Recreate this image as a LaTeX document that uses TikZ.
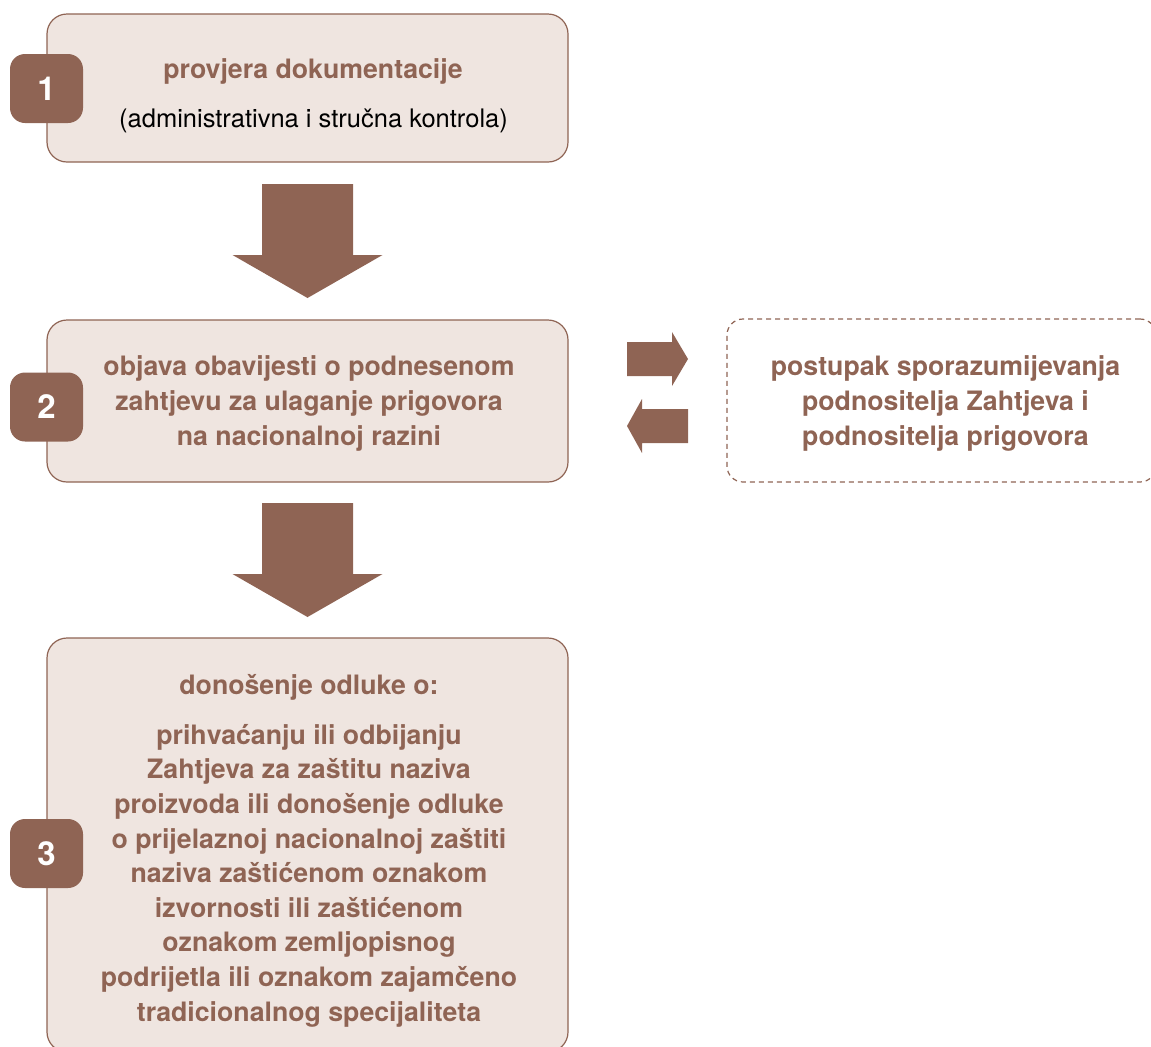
\documentclass[tikz,border=0pt]{standalone}
\usepackage{fontspec}
\setmainfont{TeX Gyre Heros}
\usepackage{xcolor}
\usetikzlibrary{calc}
\definecolor{brownish}{HTML}{8F6454}
\definecolor{paleback}{HTML}{EFE5E0}
\newcommand{\drawDownArrow}[2]{% top center: x,y
  \fill[brownish] (#1-45.5,#2) -- (#1+45.5,#2) -- (#1+45.5,#2+71) -- (#1+75,#2+71)
    -- (#1,#2+114) -- (#1-75,#2+71) -- (#1-45.5,#2+71) -- cycle;
}
\newcommand{\drawRightArrow}[2]{% tip: x,y
  \fill[brownish] (#1-61,#2-17) -- (#1-16,#2-17) -- (#1-16,#2-27) -- (#1,#2)
    -- (#1-16,#2+27) -- (#1-16,#2+17) -- (#1-61,#2+17) -- cycle;
}
\newcommand{\drawLeftArrow}[2]{% tip: x,y
  \fill[brownish] (#1+61,#2-17) -- (#1+15,#2-17) -- (#1+15,#2-27) -- (#1,#2)
    -- (#1+15,#2+27) -- (#1+15,#2+17) -- (#1+61,#2+17) -- cycle;
}
\tikzset{
  stepbox/.style={draw=brownish, fill=paleback, rounded corners=10pt, line width=0.6pt,
    minimum width=260.5pt, inner sep=0pt},
  badge/.style={fill=brownish, rounded corners=7.5pt, minimum width=36.5pt,
    minimum height=34.5pt, inner sep=0pt, text=white, font=\fontsize{16.5}{18}\selectfont\bfseries},
  sidebox/.style={draw=brownish, line width=0.6pt, dash pattern=on 2.5pt off 2pt,
    rounded corners=8pt, minimum width=214.5pt, minimum height=81.5pt, inner sep=0pt},
  boxtext/.style={text=brownish, font=\fontsize{13.35}{17.3}\selectfont\bfseries, align=center}
}
\begin{document}
\begin{tikzpicture}[x=0.5pt,y=-0.5pt]
\useasboundingbox (0,0) rectangle (1151,1046);

% Steps
\node[stepbox, minimum height=74pt] (step1) at (307.5,88) {};
\node[stepbox, minimum height=81pt] (step2) at (307.5,401) {};
\node[stepbox, minimum height=207pt] (step3) at (307.5,845) {};

\node[boxtext] (title1) at (313,71.5) {provjera dokumentacije};
\node[font=\fontsize{12.75}{17.3}\selectfont] (sub1) at (313.5,120.5) {(administrativna i stručna kontrola)};

\node[boxtext] (text2) at (309,403.5) {objava obavijesti o podnesenom\\zahtjevu za ulaganje prigovora\\na nacionalnoj razini};

\node[boxtext] (title3) at (309,687.5) {donošenje odluke o:};
\node[boxtext] (text3) at (309,875.5) {prihvaćanju ili odbijanju\\Zahtjeva za zaštitu naziva\\proizvoda ili donošenje odluke\\o prijelaznoj nacionalnoj zaštiti\\naziva zaštićenom oznakom\\izvornosti ili zaštićenom\\oznakom zemljopisnog\\podrijetla ili oznakom zajamčeno\\tradicionalnog specijaliteta};

% Numbers
\node[badge] (num1) at (46.5,88.5) {1};
\node[badge] (num2) at (46.5,407) {2};
\node[badge] (num3) at (46.5,853.5) {3};

% Side step
\node[sidebox] (side) at (941.5,400.5) {};
\node[boxtext] (sidetext) at (945.5,403.5) {postupak sporazumijevanja\\podnositelja Zahtjeva i\\podnositelja prigovora};

% Arrows
\drawDownArrow{307.5}{184}
\drawDownArrow{307.5}{503}
\drawRightArrow{688}{359}
\drawLeftArrow{627}{426}

\end{tikzpicture}
\end{document}
